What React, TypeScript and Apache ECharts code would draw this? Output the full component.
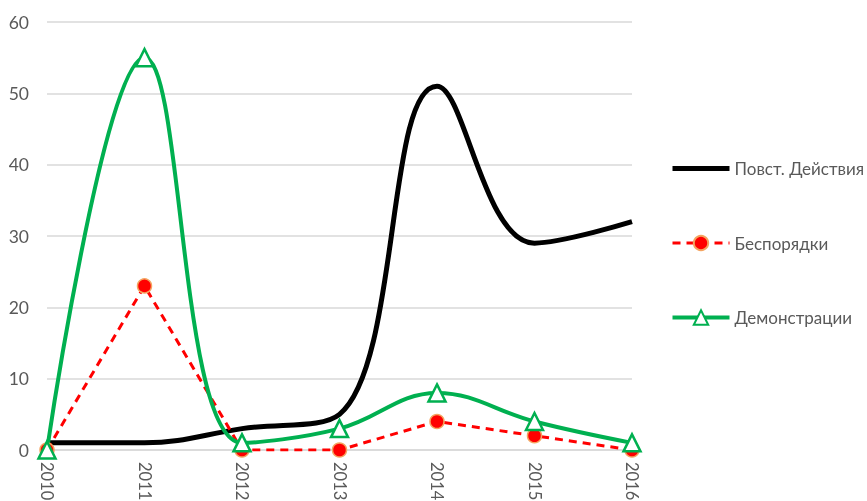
import React, { useEffect, useRef } from "react";
import * as echarts from "echarts";

const years = ["2010", "2011", "2012", "2013", "2014", "2015", "2016"];
const insurgency = [1, 1, 3, 5, 51, 29, 32];
const riots = [0, 23, 0, 0, 4, 2, 0];
const demos = [0, 55, 1, 3, 8, 4, 1];
const seriesNames = ["Повст. Действия", "Беспорядки", "Демонстрации"];

export default function App() {
  const ref = useRef<HTMLDivElement>(null);
  useEffect(() => {
    const chart = echarts.init(ref.current!, null, { renderer: "svg" });
    const font = "Lato, 'Open Sans', sans-serif";
    chart.setOption({
      animation: false,
      textStyle: { fontFamily: font },
      grid: { left: 47, right: 235, top: 22, bottom: 51, containLabel: false, outerBoundsMode: "none" },
      legend: {
        orient: "vertical",
        left: 670,
        top: 160,
        padding: 0,
        itemGap: 57.5,
        itemWidth: 57,
        itemHeight: 18,
        textStyle: { color: "#595959", fontSize: 17, fontFamily: font, overflow: "none" },
        lineStyle: { width: "inherit" },
        data: [
          { name: seriesNames[0], itemStyle: { opacity: 0 } },
          { name: seriesNames[1] },
          { name: seriesNames[2] },
        ],
      },
      xAxis: {
        type: "category",
        data: years,
        boundaryGap: false,
        axisTick: { show: false },
        axisLine: { show: true, lineStyle: { color: "#d9d9d9", width: 1.5 } },
        axisLabel: { rotate: -90, color: "#595959", fontSize: 16.5, margin: 12, fontFamily: font },
      },
      yAxis: {
        type: "value",
        min: 0,
        max: 60,
        interval: 10,
        axisLine: { show: false },
        axisTick: { show: false },
        splitLine: { lineStyle: { color: "#d9d9d9", width: 1.5 } },
        axisLabel: { color: "#595959", fontSize: 17.5, margin: 18, fontFamily: font },
      },
      series: [
        {
          name: seriesNames[0],
          type: "line",
          data: insurgency,
          smooth: 0.4,
          symbol: "none",
          lineStyle: { color: "#000000", width: 5 },
          itemStyle: { color: "#000000" },
        },
        {
          name: seriesNames[1],
          type: "line",
          data: riots,
          smooth: false,
          symbol: "circle",
          symbolSize: 14,
          lineStyle: { color: "#ff0000", width: 3, type: [8, 6] },
          itemStyle: { color: "#ff0000", borderColor: "#f4a460", borderWidth: 1.5 },
        },
        {
          name: seriesNames[2],
          type: "line",
          data: demos,
          smooth: 0.4,
          symbol: "triangle",
          symbolSize: 17,
          lineStyle: { color: "#00b050", width: 4 },
          itemStyle: { color: "#ffffff", borderColor: "#00b050", borderWidth: 2.5 },
        },
      ],
    });
    return () => chart.dispose();
  }, []);
  return (
    <div
      ref={ref}
      style={{ position: "fixed", left: 0, top: 0, width: 867, height: 501 }}
    />
  );
}
